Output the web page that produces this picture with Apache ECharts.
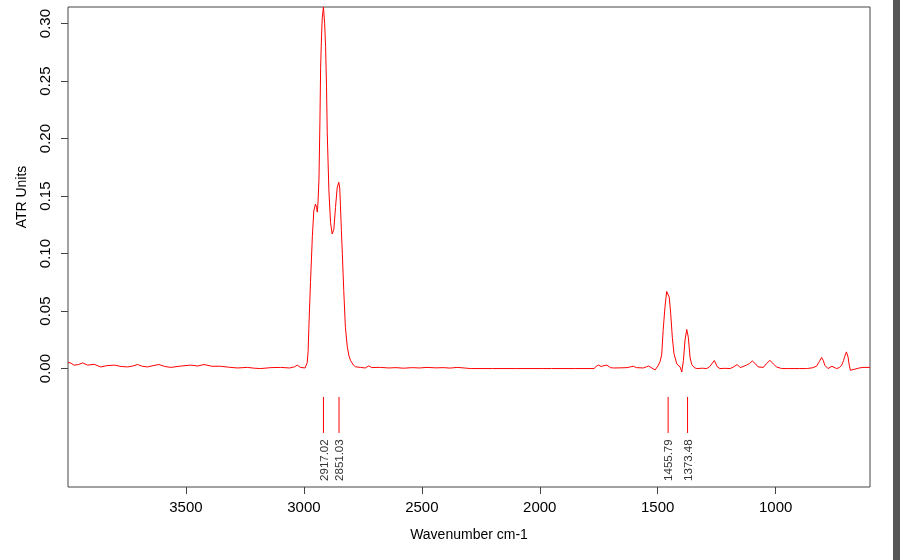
<!DOCTYPE html>
<html>
<head>
<meta charset="utf-8">
<title>ATR spectrum</title>
<script src="https://cdn.jsdelivr.net/npm/echarts@6/dist/echarts.min.js"></script>
<style>
  html, body { margin: 0; padding: 0; background: #fff; }
  #chart { width: 900px; height: 560px; }
</style>
</head>
<body>
<div id="chart"></div>
<script>
// wavenumbers (cm-1) and ATR absorbance
var wavenumbers = [
  4000, 3990, 3974, 3955, 3938, 3917, 3889, 3861, 3835, 3804, 3775, 3748, 3725, 3705, 3685,
  3663, 3640, 3614, 3590, 3564, 3520, 3480, 3450, 3423, 3390, 3353, 3320, 3282, 3240, 3210,
  3183, 3140, 3099, 3060, 3040, 3028, 3015, 3007, 2995, 2990, 2986, 2982, 2979, 2975, 2972,
  2964, 2958, 2951, 2946, 2943, 2940, 2936, 2932, 2929, 2925, 2922, 2917, 2912, 2908, 2904,
  2901, 2894, 2887, 2880, 2876, 2873, 2866, 2859, 2852, 2848, 2845, 2841, 2837, 2831, 2824,
  2816, 2809, 2802, 2790, 2781, 2760, 2740, 2725, 2712, 2690, 2675, 2640, 2610, 2578, 2540,
  2510, 2478, 2440, 2410, 2380, 2350, 2320, 2294, 2200, 2100, 1990, 1950, 1948, 1945, 1850,
  1770, 1760, 1751, 1740, 1728, 1716, 1700, 1688, 1660, 1630, 1615, 1603, 1590, 1561, 1548,
  1539, 1525, 1511, 1497, 1490, 1483, 1477, 1469, 1462, 1458, 1451, 1445, 1438, 1431, 1419,
  1405, 1398, 1391, 1384, 1377, 1370, 1363, 1356, 1345, 1334, 1310, 1292, 1280, 1274, 1260,
  1247, 1236, 1215, 1193, 1178, 1163, 1150, 1144, 1123, 1110, 1099, 1085, 1074, 1052, 1040,
  1024, 1010, 996, 975, 947, 900, 869, 845, 827, 815, 805, 798, 792, 778, 761,
  742, 730, 720, 712, 707, 700, 693, 688, 683, 665, 650, 630, 604, 600
];
var absorbance = [
  0.0052, 0.0050, 0.0029, 0.0035, 0.0049, 0.0030, 0.0037, 0.0014, 0.0025, 0.0030, 0.0018, 0.0014, 0.0022, 0.0035, 0.0020,
  0.0014, 0.0025, 0.0035, 0.0018, 0.0010, 0.0022, 0.0030, 0.0022, 0.0035, 0.0020, 0.0020, 0.0012, 0.0005, 0.0010, 0.0003,
  0.0000, 0.0008, 0.0010, 0.0005, 0.0015, 0.0030, 0.0010, -0.0006, 0.0005, 0.0008, 0.0050, 0.0150, 0.0350, 0.0580, 0.0750,
  0.1150, 0.1370, 0.1430, 0.1400, 0.1360, 0.1450, 0.1650, 0.2150, 0.2620, 0.2900, 0.3050, 0.3144, 0.3000, 0.2800, 0.2450,
  0.2050, 0.1550, 0.1270, 0.1170, 0.1170, 0.1210, 0.1400, 0.1570, 0.1620, 0.1570, 0.1420, 0.1200, 0.1000, 0.0680, 0.0360,
  0.0190, 0.0110, 0.0070, 0.0030, 0.0015, 0.0010, 0.0005, 0.0023, 0.0008, 0.0010, 0.0010, 0.0005, 0.0008, 0.0003, 0.0008,
  0.0005, 0.0010, 0.0006, 0.0008, 0.0004, 0.0010, 0.0005, 0.0000, 0.0000, 0.0000, 0.0000, 0.0000, 0.0004, 0.0000, 0.0000,
  0.0000, 0.0020, 0.0030, 0.0018, 0.0025, 0.0030, 0.0008, 0.0005, 0.0006, 0.0008, 0.0015, 0.0020, 0.0008, 0.0005, 0.0015,
  0.0022, 0.0005, -0.0012, 0.0030, 0.0060, 0.0120, 0.0330, 0.0540, 0.0670, 0.0675, 0.0620, 0.0480, 0.0270, 0.0130, 0.0040,
  0.0014, -0.0030, 0.0070, 0.0250, 0.0340, 0.0270, 0.0100, 0.0035, 0.0008, 0.0000, 0.0003, 0.0000, 0.0015, 0.0030, 0.0070,
  0.0014, 0.0000, 0.0002, 0.0000, 0.0015, 0.0035, 0.0008, 0.0000, 0.0030, 0.0045, 0.0066, 0.0040, 0.0014, 0.0010, 0.0040,
  0.0072, 0.0040, 0.0014, 0.0000, 0.0000, 0.0000, 0.0000, 0.0006, 0.0020, 0.0060, 0.0096, 0.0070, 0.0030, 0.0000, 0.0020,
  0.0000, 0.0008, 0.0030, 0.0070, 0.0107, 0.0145, 0.0100, 0.0030, -0.0015, -0.0006, 0.0003, 0.0010, 0.0010, 0.0012
];
var peakPositions = [2917.02, 2851.03, 1455.79, 1373.48];
var peakLabels = ['2917.02', '2851.03', '1455.79', '1373.48'];
var yTickValues = [0, 0.05, 0.10, 0.15, 0.20, 0.25, 0.30];
var xTickValues = [3500, 3000, 2500, 2000, 1500, 1000];

var FONT = "'Liberation Sans', Arial, sans-serif";

var dom = document.getElementById('chart');
var myChart = echarts.init(dom, null, { renderer: 'canvas' });

var spectrum = wavenumbers.map(function (w, i) {
  return [w, absorbance[i]];
});
var peaks = peakPositions.map(function (p, i) {
  return [p, peakLabels[i]];
});

var option = {
  animation: false,
  backgroundColor: '#fff',
  grid: {
    left: 68, right: 30, top: 7, bottom: 73,
    show: true, borderColor: '#444', borderWidth: 1, backgroundColor: 'transparent'
  },
  graphic: [
    {
      type: 'text', x: 22, y: 197, rotation: Math.PI / 2,
      style: {
        text: 'ATR Units', fill: '#000', font: '14px ' + FONT,
        textAlign: 'center', textVerticalAlign: 'middle'
      }
    },
    {
      type: 'rect', shape: { x: 893, y: 0, width: 7, height: 560 },
      style: { fill: '#575757' }
    }
  ],
  xAxis: {
    type: 'value',
    inverse: true,
    min: 600,
    max: 4000,
    name: 'Wavenumber cm-1',
    nameLocation: 'middle',
    nameGap: 41,
    nameTextStyle: { color: '#000', fontSize: 14, fontFamily: FONT },
    axisLine: { show: false, onZero: false },
    axisTick: { show: true, length: 7, lineStyle: { color: '#444' }, customValues: xTickValues },
    axisLabel: {
      color: '#000', fontSize: 15, fontFamily: FONT, margin: 13,
      customValues: xTickValues,
      formatter: function (v) { return String(v); }
    },
    splitLine: { show: false }
  },
  yAxis: {
    type: 'value',
    min: -0.103,
    max: 0.3144,
    axisLine: { show: false, onZero: false },
    axisTick: { show: true, length: 7, lineStyle: { color: '#444' }, customValues: yTickValues },
    axisLabel: {
      color: '#000', fontSize: 15, fontFamily: FONT, margin: 15, rotate: 90,
      customValues: yTickValues,
      formatter: function (v) { return v.toFixed(2); }
    },
    splitLine: { show: false }
  },
  series: [
    {
      name: 'spectrum',
      type: 'line',
      data: spectrum,
      showSymbol: false,
      smooth: false,
      clip: true,
      lineStyle: { color: '#ff0000', width: 1 }
    },
    {
      name: 'peaks',
      type: 'custom',
      data: peaks,
      renderItem: function (params, api) {
        var x = api.value(0);
        var top = api.coord([x, -0.0247]);
        var bottom = api.coord([x, -0.056]);
        var textPos = api.coord([x, -0.0977]);
        return {
          type: 'group',
          children: [
            {
              type: 'line',
              shape: { x1: top[0], y1: top[1], x2: bottom[0], y2: bottom[1] },
              style: { stroke: '#ff0000', lineWidth: 1 }
            },
            {
              type: 'text',
              x: textPos[0] + 1,
              y: textPos[1],
              rotation: Math.PI / 2,
              style: {
                text: api.value(1),
                fill: '#333',
                font: '11.5px ' + FONT,
                textAlign: 'left',
                textVerticalAlign: 'middle'
              }
            }
          ]
        };
      }
    }
  ]
};

myChart.setOption(option);
window.onresize = myChart.resize;
</script>
</body>
</html>
